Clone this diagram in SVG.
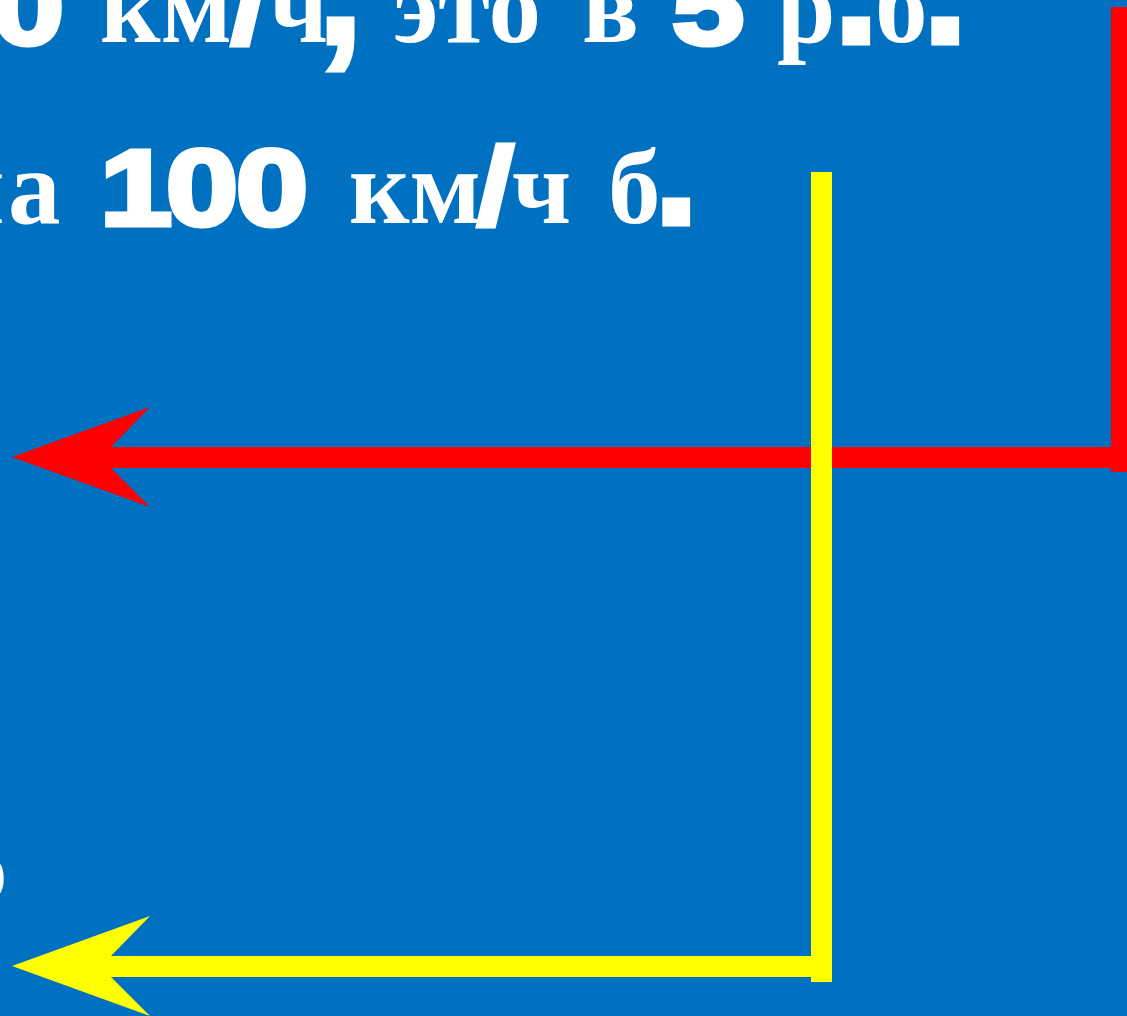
<svg xmlns="http://www.w3.org/2000/svg" width="1127" height="1016" viewBox="0 0 1127 1016">
<style>
.serif{font-family:"Liberation Serif","Times New Roman",serif;font-weight:bold;font-size:105px;fill:#fff}
.sans{font-family:"Liberation Sans",Arial,sans-serif;font-weight:bold;font-size:108px;fill:#fff;stroke:#fff;stroke-width:5;stroke-linejoin:miter}
.slash{font-family:"Liberation Sans",Arial,sans-serif;font-weight:bold;font-size:112px;fill:#fff;stroke:#fff;stroke-width:3}
.dot{font-family:"Liberation Sans",Arial,sans-serif;font-weight:bold;font-size:175px;fill:#fff;stroke:#fff;stroke-width:3}
.red{stroke:#FF0000;stroke-width:21;fill:none}
.yel{stroke:#FFFF00;stroke-width:21;fill:none}
</style>
<rect width="1127" height="1016" fill="#0070C0"/>
<g id="line1">
<text class="sans" transform="translate(-8,44) scale(1.2,1)">0</text>
<text class="serif" x="100" y="42">км</text>
<text class="slash" transform="translate(230,44) scale(1.25,1)">/</text>
<text class="serif" x="269" y="42">ч</text>
<text class="dot" x="316" y="44">,</text>
<text class="serif" x="393" y="42">это</text>
<text class="serif" x="582" y="42">в</text>
<text class="sans" transform="translate(672,44) scale(1.2,1)">5</text>
<text class="serif" x="777" y="42">р</text>
<text class="dot" x="832" y="44">.</text>
<text class="serif" x="875" y="42">б</text>
<text class="dot" x="921" y="44">.</text>
</g>
<g id="line2">
<text class="serif" y="223"><tspan x="-56">н</tspan><tspan x="8">а</tspan></text>
<text class="sans" transform="translate(100,224.5) scale(1.2,1)">1</text>
<text class="sans" transform="translate(166,224.5) scale(1.2,1)">0</text>
<text class="sans" transform="translate(236,224.5) scale(1.2,1)">0</text>
<text class="serif" x="349" y="223">км</text>
<text class="slash" transform="translate(476,225) scale(1.25,1)">/</text>
<text class="serif" x="512" y="223">ч</text>
<text class="serif" x="608" y="223">б</text>
<text class="dot" x="652" y="225">.</text>
</g>
<g id="fragment">
<text class="serif" x="-37" y="899" style="font-size:88px">о</text>
</g>
<g id="connectors">
<g id="red-arrow">
<path class="red" d="M1121.5,7 V472 M1111,457.5 H100"/>
<polygon fill="#FF0000" points="12,457 150,407 111,447 111,468 150,507"/>
</g>
<g id="yellow-arrow">
<path class="yel" d="M821.5,172 V982 M811,966.5 H100"/>
<polygon fill="#FFFF00" points="12,966 150,916 111,956 111,977 150,1016"/>
</g>
</g>
</svg>
